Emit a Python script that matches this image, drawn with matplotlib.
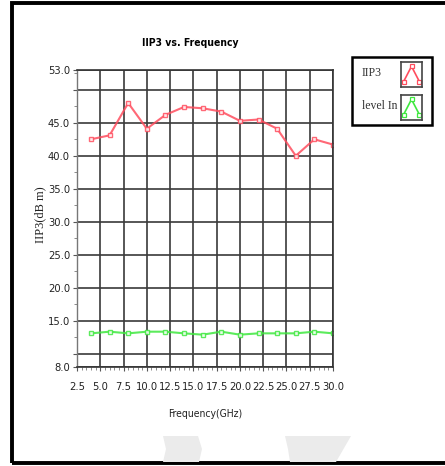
import matplotlib
matplotlib.use('Agg')
import matplotlib.pyplot as plt
from matplotlib.patches import Rectangle, Polygon
from matplotlib.ticker import MultipleLocator

plt.rcParams['font.family'] = ['DejaVu Sans']
plt.rcParams['font.stretch'] = 'condensed'

# dados: frequencia (GHz) e IIP3 / nivel de entrada (dBm)
freq = [4, 6, 8, 10, 12, 14, 16, 18, 20, 22, 24, 26, 28, 30]
iip3 = [42.5, 43.1, 48.0, 44.1, 46.2, 47.4, 47.2, 46.7, 45.3, 45.5, 44.1, 40.0, 42.5, 41.7]
levelIn = [13.1, 13.35, 13.1, 13.35, 13.35, 13.1, 12.9, 13.35, 12.9, 13.1, 13.1, 13.1, 13.35, 13.1]

xTicks = [2.5, 5.0, 7.5, 10.0, 12.5, 15.0, 17.5, 20.0, 22.5, 25.0, 27.5, 30.0]
yTicks = [8, 10, 15, 20, 25, 30, 35, 40, 45, 50, 53]
yLabels = ['8.0', '', '15.0', '20.0', '25.0', '30.0', '35.0', '40.0', '45.0', '', '53.0']

corIIP3 = '#ff4d5e'
corLevel = '#3fe83f'

fig = plt.figure(figsize=(4.45, 4.66), dpi=100)

# moldura externa
fig.patches.append(Rectangle((12/445, 1-463/466), 440/445, 460/466, transform=fig.transFigure,
                             fill=False, edgecolor='black', linewidth=2.8))

# manchas cinza no rodape
fig.patches.append(Polygon([(163/445, 1-436/466), (198/445, 1-436/466), (202/445, 1-449/466),
                            (199/445, 1-462/466), (163/445, 1-462/466), (166/445, 1-449/466)],
                           closed=True, transform=fig.transFigure, facecolor='#ebebeb', edgecolor='none'))
fig.patches.append(Polygon([(285/445, 1-436/466), (351/445, 1-436/466), (336/445, 1-462/466),
                            (290/445, 1-462/466), (288/445, 1-449/466)],
                           closed=True, transform=fig.transFigure, facecolor='#ebebeb', edgecolor='none'))

ax = fig.add_axes([77/445, 1-367/466, 256/445, 297/466])
ax.plot(freq, iip3, color=corIIP3, linewidth=1.5, marker='s', markersize=3.5,
        markerfacecolor='white', markeredgecolor=corIIP3, markeredgewidth=1.0, alpha=0.85)
ax.plot(freq, levelIn, color=corLevel, linewidth=1.5, marker='s', markersize=3.5,
        markerfacecolor='white', markeredgecolor=corLevel, markeredgewidth=1.0, alpha=0.85)

ax.set_xlim(2.5, 30.0)
ax.set_ylim(8, 53)
ax.set_xticks(xTicks)
ax.set_xticklabels(['%.1f' % v for v in xTicks])
ax.set_yticks(yTicks)
ax.set_yticklabels(yLabels)
ax.xaxis.set_minor_locator(MultipleLocator(0.5))
ax.yaxis.set_minor_locator(MultipleLocator(2.5))
ax.tick_params(axis='both', which='major', labelsize=8, length=3, width=0.8, color='#555555', pad=8)
ax.tick_params(axis='both', which='minor', length=2, width=0.6, color='#777777')
ax.tick_params(axis='y', pad=2)
for lab in ax.get_xticklabels() + ax.get_yticklabels():
    lab.set_color('#222222')

ax.grid(True, which='major', color='#3a3a3a', linewidth=1.2)
for lado in ['top', 'right', 'bottom']:
    ax.spines[lado].set_color('#333333')
    ax.spines[lado].set_linewidth(1.2)
ax.spines['left'].set_color('#777777')
ax.spines['left'].set_linewidth(1.0)

ax.set_xlabel('Frequency(GHz)', fontsize=7.5, labelpad=12, color='#222222')
fig.text(40/445, 1-215/466, 'IIP3(dB m)', rotation=90, ha='center', va='center',
         fontsize=9, family=['Liberation Serif', 'DejaVu Serif'], color='#222222')
fig.text(190/445, 1-43/466, 'IIP3 vs. Frequency', ha='center', va='center',
         fontsize=7.5, fontweight='bold')

# legenda desenhada a parte
fig.patches.append(Rectangle((352/445, 1-125/466), 80/445, 68/466, transform=fig.transFigure,
                             facecolor='white', edgecolor='black', linewidth=1.8, zorder=-1))
nomes = ['IIP3', 'level In']
cores = [corIIP3, corLevel]
for i in range(2):
    ytop = 62 + i * 33
    fig.text(362/445, 1-(ytop + 11)/466, nomes[i], ha='left', va='center', fontsize=8.5,
             family=['Liberation Serif', 'DejaVu Serif'], color='#333333')
    ic = fig.add_axes([401/445, 1-(ytop + 25)/466, 21/445, 25/466])
    ic.plot([0, 1.2, 2.4], [0.15, 0.85, 0.15], color=cores[i], linewidth=1.2)
    ic.plot([0, 1.2, 2.4], [0.15, 0.85, 0.15], linestyle='none', marker='s', markersize=3,
            markerfacecolor='white', markeredgecolor=cores[i], markeredgewidth=0.9)
    ic.set_xlim(-0.4, 2.8)
    ic.set_ylim(-0.1, 1.05)
    ic.set_xticks([])
    ic.set_yticks([])
    for s in ic.spines.values():
        s.set_color('#444444')
        s.set_linewidth(1.2)

fig.savefig('out.png', dpi=100)
